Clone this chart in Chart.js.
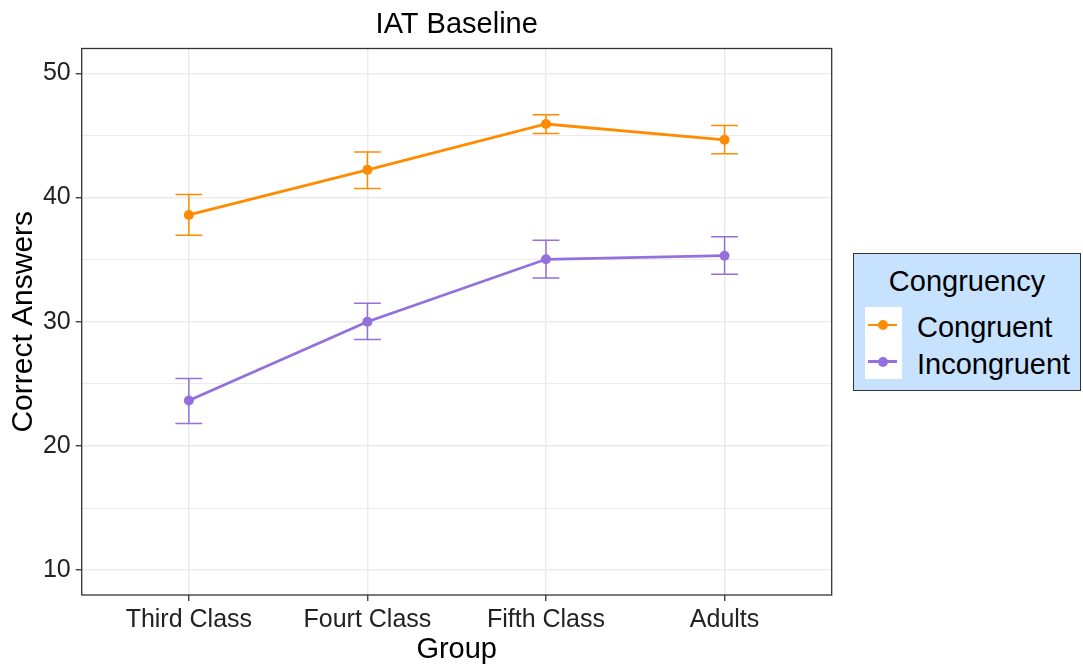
<!DOCTYPE html>
<html>
<head>
<meta charset="utf-8">
<title>IAT Baseline</title>
<script src="https://cdn.jsdelivr.net/npm/chart.js@4/dist/chart.umd.min.js"></script>
<style>
  html, body { margin: 0; padding: 0; background: #fff; }
  #wrap { position: relative; width: 1083px; height: 666px; font-family: "Liberation Sans", Arial, sans-serif; }
  #plot { position: absolute; left: 0; top: 0; }
  .lg-box { position: absolute; left: 853px; top: 253px; width: 228px; height: 138px;
            background: #C6E2FF; border: 1px solid #333; box-sizing: border-box; }
  .lg-title { position: absolute; left: 853px; width: 228px; top: 264px; text-align: center;
              font-size: 29px; line-height: 34px; color: #000; white-space: nowrap; }
  .lg-keys { position: absolute; left: 865px; top: 307px; width: 37px; height: 72px; background: #fff; }
  .lg-line { position: absolute; left: 868px; width: 29px; height: 2.6px; }
  .lg-dot { position: absolute; width: 10px; height: 10px; border-radius: 50%; left: 877.5px; }
  .lg-label { position: absolute; left: 917px; font-size: 29px; line-height: 34px; color: #000; white-space: nowrap; }
</style>
</head>
<body>
<div id="wrap">
  <canvas id="plot" width="1083" height="666"></canvas>
  <div id="legend"></div>
</div>
<script>
// Groups along the x axis
const groups = ['Third Class', 'Fourt Class', 'Fifth Class', 'Adults'];

// Mean correct answers with lower / upper error bounds
const congruentMean = [38.60, 42.23, 45.92, 44.65];
const congruentLow  = [36.97, 40.73, 45.16, 43.52];
const congruentHigh = [40.24, 43.66, 46.67, 45.81];

const incongruentMean = [23.66, 30.00, 35.03, 35.32];
const incongruentLow  = [21.81, 28.58, 33.52, 33.82];
const incongruentHigh = [25.44, 31.48, 36.56, 36.85];

// Y axis ticks: labelled majors and unlabelled minors
const yMajorTicks = [10, 20, 30, 40, 50];
const yMinorTicks = [15, 25, 35, 45];

const seriesNames = ['Congruent', 'Incongruent'];
const seriesColors = ['#FF8C00', '#9370DB'];

const FONT = '"Liberation Sans", Arial, sans-serif';
const CAP_HALF = 0.075; // half width of error bar caps, in x units

function toPoints(values) {
  return values.map((v, i) => ({ x: i, y: v }));
}

// Vertical error bars with caps, drawn beneath the lines and points
const errorBars = {
  id: 'errorBars',
  beforeDatasetsDraw(chart) {
    const { ctx, chartArea, scales: { x, y } } = chart;
    ctx.save();
    ctx.beginPath();
    ctx.rect(chartArea.left, chartArea.top, chartArea.right - chartArea.left, chartArea.bottom - chartArea.top);
    ctx.clip();
    chart.data.datasets.forEach(ds => {
      ctx.strokeStyle = ds.borderColor;
      ctx.lineWidth = 1.5;
      ds.data.forEach((p, i) => {
        const px = x.getPixelForValue(p.x);
        const x0 = x.getPixelForValue(p.x - CAP_HALF);
        const x1 = x.getPixelForValue(p.x + CAP_HALF);
        const lo = y.getPixelForValue(ds.errLow[i]);
        const hi = y.getPixelForValue(ds.errHigh[i]);
        ctx.beginPath();
        ctx.moveTo(px, hi); ctx.lineTo(px, lo);
        ctx.moveTo(x0, hi); ctx.lineTo(x1, hi);
        ctx.moveTo(x0, lo); ctx.lineTo(x1, lo);
        ctx.stroke();
      });
    });
    ctx.restore();
  }
};

// Dark frame around the plotting panel
const panelBorder = {
  id: 'panelBorder',
  afterDraw(chart) {
    const { ctx, chartArea: a } = chart;
    ctx.save();
    ctx.strokeStyle = '#333333';
    ctx.lineWidth = 1.3;
    ctx.strokeRect(a.left, a.top, a.right - a.left, a.bottom - a.top);
    ctx.restore();
  }
};

const isMajor = v => yMajorTicks.includes(v);

new Chart(document.getElementById('plot'), {
  type: 'line',
  data: {
    datasets: [
      {
        label: seriesNames[0],
        data: toPoints(congruentMean),
        errLow: congruentLow, errHigh: congruentHigh,
        borderColor: seriesColors[0], backgroundColor: seriesColors[0],
        borderWidth: 2.8, pointRadius: 5, pointBorderWidth: 0,
        pointBackgroundColor: seriesColors[0], tension: 0
      },
      {
        label: seriesNames[1],
        data: toPoints(incongruentMean),
        errLow: incongruentLow, errHigh: incongruentHigh,
        borderColor: seriesColors[1], backgroundColor: seriesColors[1],
        borderWidth: 2.8, pointRadius: 5, pointBorderWidth: 0,
        pointBackgroundColor: seriesColors[1], tension: 0
      }
    ]
  },
  options: {
    responsive: false,
    animation: false,
    devicePixelRatio: 1,
    layout: { padding: { top: 0, right: 251.3, bottom: 0, left: 0 } },
    plugins: {
      legend: { display: false },
      tooltip: { enabled: false },
      title: {
        display: true,
        text: 'IAT Baseline',
        fullSize: false,
        color: '#000',
        font: { family: FONT, size: 29, weight: 'normal', lineHeight: 1.2 },
        padding: { top: 7.9, bottom: 5.8 }
      }
    },
    scales: {
      x: {
        type: 'linear',
        min: -0.6,
        max: 3.6,
        afterBuildTicks: s => { s.ticks = groups.map((_, i) => ({ value: i })); },
        afterFit: s => { s.height = 71; },
        ticks: {
          callback: v => groups[v],
          font: { family: FONT, size: 25 },
          color: '#222',
          padding: 4,
          maxRotation: 0,
          autoSkip: false
        },
        grid: { color: '#EBEBEB', lineWidth: 1.5, tickColor: '#333', tickWidth: 1.3, tickLength: 6 },
        border: { display: false },
        title: {
          display: true, text: 'Group', color: '#000',
          font: { family: FONT, size: 29, lineHeight: 1 },
          padding: { top: 0, bottom: 2 }
        }
      },
      y: {
        type: 'linear',
        min: 8,
        max: 52,
        afterBuildTicks: s => {
          s.ticks = yMajorTicks.concat(yMinorTicks).sort((a, b) => a - b).map(v => ({ value: v }));
        },
        afterFit: s => { s.width = 81.7; },
        ticks: {
          callback: v => isMajor(v) ? String(v) : '',
          font: { family: FONT, size: 25 },
          color: '#222',
          padding: 5,
          autoSkip: false
        },
        grid: {
          color: '#EBEBEB',
          lineWidth: c => (c.tick && isMajor(c.tick.value)) ? 1.5 : 1.1,
          tickColor: c => (c.tick && isMajor(c.tick.value)) ? '#333' : 'rgba(0,0,0,0)',
          tickWidth: 1.3,
          tickLength: 6
        },
        border: { display: false },
        title: {
          display: true, text: 'Correct Answers', color: '#000',
          font: { family: FONT, size: 30, lineHeight: 1 },
          padding: { top: 8.3, bottom: 0 }
        }
      }
    }
  },
  plugins: [errorBars, panelBorder]
});

// Legend panel built from the series names and colours
(function buildLegend() {
  const host = document.getElementById('legend');
  const parts = ['<div class="lg-box"></div>',
                 '<div class="lg-title">Congruency</div>',
                 '<div class="lg-keys"></div>'];
  const lineY = [325, 361.7];
  const textTop = [310.3, 347];
  seriesNames.forEach((name, i) => {
    parts.push('<div class="lg-line" style="top:' + (lineY[i] - 1.3) + 'px;background:' + seriesColors[i] + '"></div>');
    parts.push('<div class="lg-dot" style="top:' + (lineY[i] - 5) + 'px;background:' + seriesColors[i] + '"></div>');
    parts.push('<div class="lg-label" style="top:' + textTop[i] + 'px">' + name + '</div>');
  });
  host.innerHTML = parts.join('');
})();
</script>
</body>
</html>
